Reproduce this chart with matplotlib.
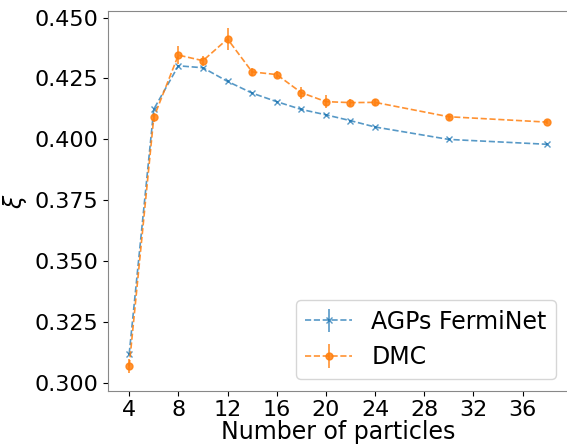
import numpy as np
import matplotlib
matplotlib.use("Agg")
import matplotlib.pyplot as plt

# number of particles
n_particles = [4, 6, 8, 10, 12, 14, 16, 18, 20, 22, 24, 30, 38]

# AGPs FermiNet
xi_agps = [0.3120, 0.4124, 0.4302, 0.4294, 0.4238, 0.4190, 0.4155, 0.4123, 0.4101, 0.4077, 0.4051, 0.4000, 0.3980]
err_agps = [0.0005, 0.0005, 0.0005, 0.0005, 0.0004, 0.0004, 0.0004, 0.0004, 0.0004, 0.0004, 0.0004, 0.0004, 0.0004]

# DMC
xi_dmc = [0.3070, 0.4090, 0.4346, 0.4323, 0.4412, 0.4277, 0.4266, 0.4192, 0.4155, 0.4151, 0.4152, 0.4093, 0.4071]
err_dmc = [0.0030, 0.0020, 0.0038, 0.0020, 0.0044, 0.0015, 0.0016, 0.0025, 0.0026, 0.0014, 0.0014, 0.0012, 0.0008]

xticks = [4, 8, 12, 16, 20, 24, 28, 32, 36]

fig = plt.figure(figsize=(5.67, 4.45), dpi=100)
# right spine sits just outside the picture, like the cropped original
ax = fig.add_axes([108.3/567, 54.3/445, (568-108.3)/567, (390.7-11)/445])

ax.errorbar(n_particles, xi_agps, yerr=err_agps, fmt='x--', color='tab:blue',
            markersize=5, lw=1.2, alpha=0.75, label='AGPs FermiNet')
ax.errorbar(n_particles, xi_dmc, yerr=err_dmc, fmt='o--', color='tab:orange',
            markersize=5, lw=1.2, alpha=0.85, label='DMC')

ax.set_xticks(xticks)
ax.tick_params(labelsize=16)
ax.set_yticks([0.300, 0.325, 0.350, 0.375, 0.400, 0.425, 0.450])
ax.yaxis.set_major_formatter(matplotlib.ticker.FormatStrFormatter('%.3f'))
ax.set_xlabel('Number of particles', fontsize=17, labelpad=0)
ax.set_ylabel(r'$\xi$', fontsize=17)
for s in ax.spines.values():
    s.set_color('#888888')
ax.legend(loc='lower right', fontsize=17)

fig.savefig('out.png', dpi=100)
